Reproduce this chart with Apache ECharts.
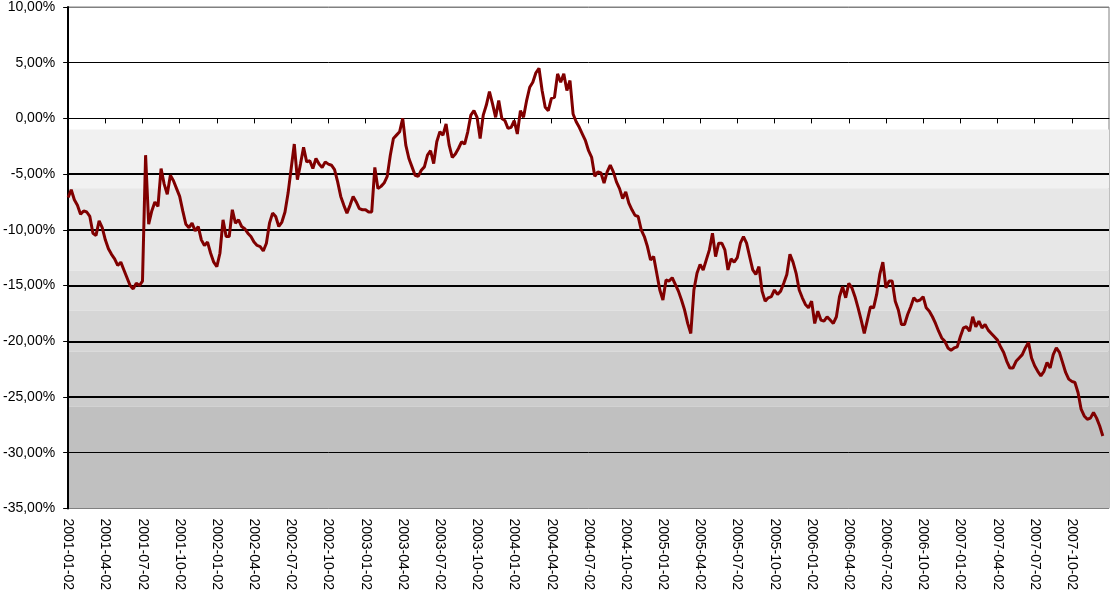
<!DOCTYPE html>
<html>
<head>
<meta charset="utf-8">
<script src="https://cdn.jsdelivr.net/npm/echarts@6/dist/echarts.min.js"></script>
<style>
html,body{margin:0;padding:0;background:#fff;}
#chart{width:1110px;height:593px;}
</style>
</head>
<body>
<div id="chart"></div>
<script>
// Quarter tick labels (category axis)
const quarterLabels = [
  '2001-01-02','2001-04-02','2001-07-02','2001-10-02',
  '2002-01-02','2002-04-02','2002-07-02','2002-10-02',
  '2003-01-02','2003-04-02','2003-07-02','2003-10-02',
  '2004-01-02','2004-04-02','2004-07-02','2004-10-02',
  '2005-01-02','2005-04-02','2005-07-02','2005-10-02',
  '2006-01-02','2006-04-02','2006-07-02','2006-10-02',
  '2007-01-02','2007-04-02','2007-07-02','2007-10-02'
];
const stepsPerQuarter = 12;

const values = [
  -7.1,-6.4,-7.3,-7.8,-8.6,-8.3,-8.4,-8.8,-10.3,-10.5,-9.2,-9.8,
  -10.9,-11.7,-12.2,-12.6,-13.2,-12.9,-13.6,-14.3,-15.0,-15.3,-14.8,-15.0,
  -14.6,-3.3,-9.5,-8.3,-7.5,-7.9,-4.5,-5.9,-6.8,-5.1,-5.6,-6.3,
  -7.0,-8.3,-9.5,-9.8,-9.4,-10.1,-9.7,-10.9,-11.4,-11.1,-12.1,-12.9,
  -13.3,-12.1,-9.1,-10.6,-10.6,-8.2,-9.4,-9.1,-9.7,-9.9,-10.3,-10.6,
  -11.1,-11.4,-11.5,-11.9,-11.2,-9.4,-8.5,-8.8,-9.7,-9.3,-8.4,-6.7,
  -4.5,-2.3,-5.5,-4.1,-2.6,-3.9,-3.8,-4.5,-3.6,-4.1,-4.4,-3.9,
  -4.1,-4.2,-4.6,-5.7,-7.0,-7.8,-8.5,-7.8,-7.0,-7.5,-8.1,-8.2,
  -8.2,-8.4,-8.4,-4.4,-6.3,-6.1,-5.8,-5.2,-3.3,-1.8,-1.5,-1.2,
  0.0,-2.4,-3.6,-4.35,-5.1,-5.2,-4.65,-4.35,-3.3,-2.9,-4.05,-2.1,
  -1.2,-1.5,-0.5,-2.4,-3.5,-3.2,-2.7,-2.1,-2.3,-1.2,0.3,0.7,
  0.1,-1.8,0.3,1.2,2.4,1.3,0.1,1.6,0.0,-0.2,-0.9,-0.8,
  -0.2,-1.4,0.7,0.1,1.6,2.8,3.25,4.1,4.5,2.5,1.0,0.7,
  1.8,1.9,4.0,3.25,4.0,2.5,3.4,0.4,-0.3,-0.8,-1.4,-2.0,
  -2.9,-3.5,-5.2,-4.8,-4.9,-5.8,-4.8,-4.2,-4.8,-5.7,-6.3,-7.2,
  -6.6,-7.6,-8.2,-8.7,-8.8,-10.0,-10.6,-11.5,-12.7,-12.4,-13.9,-15.4,
  -16.3,-14.5,-14.6,-14.3,-14.9,-15.5,-16.3,-17.2,-18.4,-19.3,-15.4,-13.9,
  -13.1,-13.6,-12.7,-11.8,-10.3,-12.4,-11.2,-11.2,-11.8,-13.6,-12.6,-12.9,
  -12.5,-11.2,-10.6,-11.2,-12.4,-13.6,-14.0,-13.3,-15.5,-16.4,-16.1,-16.0,
  -15.4,-15.8,-15.5,-14.8,-14.0,-12.2,-12.9,-13.9,-15.4,-16.1,-16.7,-17.0,
  -16.4,-18.4,-17.3,-18.1,-18.2,-17.8,-18.1,-18.4,-17.8,-16.0,-15.1,-16.1,
  -14.8,-15.2,-16.0,-17.0,-18.1,-19.3,-18.1,-16.9,-17.0,-15.8,-14.0,-12.9,
  -15.2,-14.6,-14.6,-16.4,-17.2,-18.5,-18.5,-17.6,-16.9,-16.1,-16.4,-16.3,
  -16.0,-17.0,-17.3,-17.8,-18.4,-19.1,-19.7,-20.0,-20.6,-20.8,-20.6,-20.5,
  -19.6,-18.8,-18.7,-19.1,-17.8,-18.7,-18.2,-18.8,-18.5,-19.0,-19.3,-19.6,
  -19.9,-20.5,-21.0,-21.8,-22.4,-22.4,-21.8,-21.5,-21.2,-20.6,-20.1,-21.5,
  -22.2,-22.7,-23.1,-22.7,-21.9,-22.4,-21.2,-20.6,-21.0,-21.9,-22.8,-23.4,
  -23.6,-23.7,-24.6,-26.1,-26.7,-27.0,-26.9,-26.4,-26.9,-27.6,-28.5
];

// Background band boundaries (%) and colours
const bandEdges = [-1.0, -6.26, -13.68, -17.26, -20.93, -25.85, -35];
const bandColors = ['#f1f1f1', '#e7e7e7', '#dedede', '#d6d6d6', '#cccccc', '#c0c0c0'];

const categories = [];
quarterLabels.forEach(function (q) {
  for (let k = 0; k < stepsPerQuarter; k++) {
    categories.push(k === 0 ? q : q + ' +' + k);
  }
});
categories.push('end');

const nLabels = quarterLabels.length * stepsPerQuarter;

const bandAreas = [];
for (let b = 0; b < bandColors.length; b++) {
  bandAreas.push([
    { yAxis: bandEdges[b], itemStyle: { color: bandColors[b] } },
    { yAxis: bandEdges[b + 1] }
  ]);
}

const FONT = "'Liberation Sans', Arial, sans-serif";

const chart = echarts.init(document.getElementById('chart'), null, { renderer: 'canvas' });
chart.setOption({
  animation: false,
  backgroundColor: '#ffffff',
  grid: {
    left: 67, right: 1, top: 6, bottom: 84,
    show: true, borderColor: '#808080', borderWidth: 1,
    backgroundColor: 'transparent', z: 0
  },
  xAxis: [
    {
      type: 'category',
      data: categories,
      boundaryGap: false,
      position: 'bottom',
      z: 3,
      axisLine: { show: false, onZero: false },
      axisTick: { show: false },
      splitLine: { show: false },
      axisLabel: {
        rotate: -90,
        margin: 10,
        fontFamily: FONT,
        fontSize: 14,
        color: '#000',
        interval: function (i) { return i % stepsPerQuarter === 0 && i < nLabels; }
      }
    },
    {
      type: 'category',
      data: categories,
      boundaryGap: false,
      position: 'top',
      z: 3,
      axisLine: { show: true, onZero: true, onZeroAxisIndex: 0, lineStyle: { color: '#000', width: 1 } },
      axisTick: {
        show: true, inside: true, length: 5,
        lineStyle: { color: '#000', width: 1 },
        interval: function (i) { return i % stepsPerQuarter === 0 && i > 0 && i < nLabels; }
      },
      axisLabel: { show: false },
      splitLine: { show: false }
    }
  ],
  yAxis: [
    {
      type: 'value',
      min: -35, max: 10, interval: 5,
      position: 'left',
      z: 3,
      axisLine: { show: true, onZero: false, lineStyle: { color: '#000', width: 2 } },
      axisTick: { show: true, length: 5, lineStyle: { color: '#000', width: 1 } },
      axisLabel: {
        margin: 13,
        fontFamily: FONT,
        fontSize: 14,
        color: '#000',
        formatter: function (v) { return v.toFixed(2).replace('.', ',') + '%'; }
      },
      splitLine: {
        show: true,
        lineStyle: {
          width: 1,
          color: ['#808080', '#000', '#000', '#000', '#000', '#000', '#000', '#000', '#000', '#808080']
        }
      }
    },
    {
      type: 'value',
      min: -35, max: 10, interval: 5,
      position: 'left',
      z: 3,
      axisLine: { show: false },
      axisTick: { show: false },
      axisLabel: { show: false },
      splitLine: {
        show: true,
        lineStyle: {
          width: 2,
          color: ['transparent', 'transparent', '#000', '#000', '#000', '#000', '#000', 'transparent', 'transparent', 'transparent']
        }
      }
    }
  ],
  series: [
    {
      name: 'bands',
      type: 'line',
      xAxisIndex: 0,
      yAxisIndex: 0,
      z: 1,
      silent: true,
      data: [],
      markArea: { silent: true, z: 1, data: bandAreas }
    },
    {
      name: 'value',
      type: 'line',
      xAxisIndex: 0,
      yAxisIndex: 0,
      z: 6,
      data: values,
      showSymbol: false,
      symbol: 'none',
      lineStyle: { color: '#800000', width: 3 }
    }
  ]
});
</script>
</body>
</html>
